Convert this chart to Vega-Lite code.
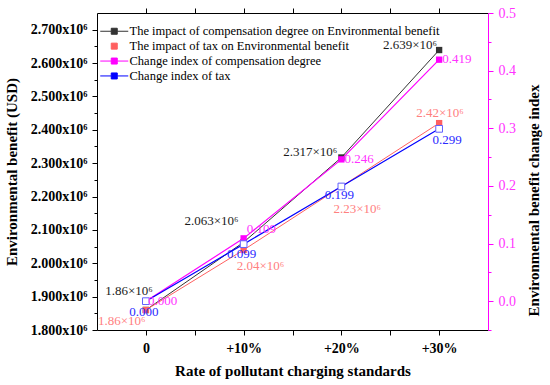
{
  "$schema": "https://vega.github.io/schema/vega-lite/v6.json",
  "autosize": {"type": "none"},
  "padding": {"left": 97, "top": 13, "right": 62, "bottom": 55},
  "width": 391,
  "height": 317,
  "background": "white",
  "datasets": {
    "left": [
      {"x": 0, "series": "The impact of compensation degree on Environmental benefit", "value": 1860000, "label": "1.86×10⁶"},
      {"x": 10, "series": "The impact of compensation degree on Environmental benefit", "value": 2063000, "label": "2.063×10⁶"},
      {"x": 20, "series": "The impact of compensation degree on Environmental benefit", "value": 2317000, "label": "2.317×10⁶"},
      {"x": 30, "series": "The impact of compensation degree on Environmental benefit", "value": 2639000, "label": "2.639×10⁶"},
      {"x": 0, "series": "The impact of tax on Environmental benefit", "value": 1860000, "label": "1.86×10⁶"},
      {"x": 10, "series": "The impact of tax on Environmental benefit", "value": 2040000, "label": "2.04×10⁶"},
      {"x": 20, "series": "The impact of tax on Environmental benefit", "value": 2230000, "label": "2.23×10⁶"},
      {"x": 30, "series": "The impact of tax on Environmental benefit", "value": 2420000, "label": "2.42×10⁶"}
    ],
    "right": [
      {"x": 0, "series": "Change index of compensation degree", "value": 0, "label": "0.000"},
      {"x": 10, "series": "Change index of compensation degree", "value": 0.109, "label": "0.109"},
      {"x": 20, "series": "Change index of compensation degree", "value": 0.246, "label": "0.246"},
      {"x": 30, "series": "Change index of compensation degree", "value": 0.419, "label": "0.419"},
      {"x": 0, "series": "Change index of tax", "value": 0, "label": "0.000"},
      {"x": 10, "series": "Change index of tax", "value": 0.099, "label": "0.099"},
      {"x": 20, "series": "Change index of tax", "value": 0.199, "label": "0.199"},
      {"x": 30, "series": "Change index of tax", "value": 0.299, "label": "0.299"}
    ]
  },
  "layer": [
    {
      "data": {"name": "left"},
      "encoding": {
        "x": {
          "field": "x", "type": "quantitative",
          "scale": {"domain": [-5, 35], "nice": false, "zero": false},
          "axis": {
            "orient": "bottom",
            "values": [0, 5, 10, 15, 20, 25, 30],
            "labelExpr": "datum.value % 10 === 0 ? (datum.value === 0 ? '0' : '+' + datum.value + '%') : ''",
            "title": "Rate of pollutant charging standards",
            "tickSize": 5,
            "labelPadding": 6,
            "titlePadding": 8
          }
        },
        "y": {
          "field": "value", "type": "quantitative",
          "scale": {"domain": [1800000, 2750000], "nice": false, "zero": false},
          "axis": {
            "orient": "left",
            "values": [1800000, 1850000, 1900000, 1950000, 2000000, 2050000, 2100000, 2150000, 2200000, 2250000, 2300000, 2350000, 2400000, 2450000, 2500000, 2550000, 2600000, 2650000, 2700000],
            "labelExpr": "datum.value % 100000 === 0 ? format(datum.value / 1000000, '.3f') + 'x10⁶' : ''",
            "tickSize": {"condition": {"test": "datum.value % 100000 === 0", "value": 5}, "value": 3},
            "labelPadding": 5,
            "title": "Environmental benefit (USD)",
            "titlePadding": 11
          }
        }
      },
      "layer": [
        {
          "mark": {"type": "line", "strokeWidth": 1},
          "encoding": {
            "color": {
              "field": "series", "type": "nominal",
              "scale": {
                "domain": ["The impact of compensation degree on Environmental benefit", "The impact of tax on Environmental benefit", "Change index of compensation degree", "Change index of tax"],
                "range": ["#333333", "#ff6060", "#ff00ff", "#0000ff"]
              },
              "legend": {
                "orient": "none",
                "legendX": 11,
                "legendY": 12,
                "title": null,
                "padding": 0,
                "symbolSize": 100,
                "symbolType": "M-2.8,0H-0.6M0.6,0H2.8M-0.6,-0.6H0.6V0.6H-0.6Z",
                "symbolStrokeWidth": 1,
                "labelFont": "Liberation Serif",
                "labelFontSize": 12.5,
                "labelFontWeight": "normal",
                "labelColor": "black",
                "labelOffset": 9,
                "labelLimit": 400,
                "rowPadding": 1.9,
                "encode": {
                  "symbols": {
                    "update": {
                      "shape": {"signal": "datum.value === 'The impact of tax on Environmental benefit' ? 'M-0.6,-0.6H0.6V0.6H-0.6Z' : 'M-2.8,0H-0.6M0.6,0H2.8M-0.6,-0.6H0.6V0.6H-0.6Z'"},
                      "fill": {"signal": "datum.value === 'Change index of tax' ? '#ffffff' : scale('color', datum.value)"},
                      "stroke": {"signal": "scale('color', datum.value)"},
                      "fillOpacity": {"value": 1},
                      "opacity": {"value": 1}
                    }
                  }
                }
              }
            }
          }
        },
        {
          "mark": {"type": "point", "shape": "square", "filled": true, "size": 40, "opacity": 1},
          "encoding": {
            "color": {
              "field": "series", "type": "nominal",
              "scale": {
                "domain": ["The impact of compensation degree on Environmental benefit", "The impact of tax on Environmental benefit", "Change index of compensation degree", "Change index of tax"],
                "range": ["#333333", "#ff6060", "#ff00ff", "#0000ff"]
              }
            }
          }
        },
        {
          "transform": [{"filter": "datum.series === 'The impact of compensation degree on Environmental benefit'"}],
          "mark": {
            "type": "text", "font": "Liberation Serif", "fontSize": 13, "color": "#1a1a1a", "align": "right", "baseline": "middle",
            "dx": {"expr": "datum.x === 0 ? 7 : datum.x === 10 ? -5 : datum.x === 20 ? -4 : -2"},
            "dy": {"expr": "datum.x === 0 ? -19 : datum.x === 10 ? -21 : -5"}
          },
          "encoding": {"text": {"field": "label"}}
        },
        {
          "transform": [{"filter": "datum.series === 'The impact of tax on Environmental benefit'"}],
          "mark": {
            "type": "text", "font": "Liberation Serif", "fontSize": 13, "color": "#ff8080", "align": "left", "baseline": "middle",
            "dx": {"expr": "datum.x === 0 ? -48 : datum.x === 10 ? -7 : datum.x === 20 ? -8 : -23"},
            "dy": {"expr": "datum.x === 0 ? 11 : datum.x === 10 ? 16 : datum.x === 20 ? 22 : -10"}
          },
          "encoding": {"text": {"field": "label"}}
        }
      ]
    },
    {
      "data": {"name": "right"},
      "encoding": {
        "x": {
          "field": "x", "type": "quantitative",
          "scale": {"domain": [-5, 35], "nice": false, "zero": false},
          "axis": {
            "orient": "top",
            "values": [0, 5, 10, 15, 20, 25, 30],
            "labels": false,
            "title": null,
            "tickSize": 5
          }
        },
        "y": {
          "field": "value", "type": "quantitative",
          "scale": {"domain": [-0.05, 0.5], "nice": false, "zero": false},
          "axis": {
            "orient": "right",
            "values": [-0.05, 0, 0.05, 0.1, 0.15, 0.2, 0.25, 0.3, 0.35, 0.4, 0.45, 0.5],
            "labelExpr": "abs(datum.value * 10 - round(datum.value * 10)) < 0.001 ? format(datum.value, '.1f') : ''",
            "tickSize": {"condition": {"test": "abs(datum.value * 10 - round(datum.value * 10)) < 0.001", "value": 5}, "value": 3},
            "labelPadding": 5,
            "labelFontWeight": "normal",
            "labelColor": "#ff33ff",
            "domainColor": "#ff00ff",
            "tickColor": "#ff00ff",
            "title": "Environmental benefit change index",
            "titleAngle": 270,
            "titleX": 45,
            "titleY": 187,
            "titleAlign": "center",
            "titleBaseline": "middle"
          }
        }
      },
      "layer": [
        {
          "mark": {"type": "line", "strokeWidth": 1.2},
          "encoding": {
            "color": {
              "field": "series", "type": "nominal",
              "scale": {
                "domain": ["The impact of compensation degree on Environmental benefit", "The impact of tax on Environmental benefit", "Change index of compensation degree", "Change index of tax"],
                "range": ["#333333", "#ff6060", "#ff00ff", "#0000ff"]
              }
            }
          }
        },
        {
          "transform": [{"filter": "datum.series === 'Change index of compensation degree'"}],
          "mark": {"type": "point", "shape": "square", "filled": true, "size": 40, "opacity": 1, "color": "#ff00ff"}
        },
        {
          "transform": [{"filter": "datum.series === 'Change index of tax'"}],
          "mark": {"type": "point", "shape": "square", "filled": false, "fill": "white", "fillOpacity": 1, "stroke": "#6060ff", "strokeWidth": 1, "size": 45, "opacity": 1}
        },
        {
          "transform": [{"filter": "datum.series === 'Change index of compensation degree'"}],
          "mark": {
            "type": "text", "font": "Liberation Serif", "fontSize": 13, "color": "#ff33ff", "align": "left", "baseline": "middle",
            "dx": {"expr": "datum.x === 0 ? 2 : 3"},
            "dy": {"expr": "datum.x === 10 ? -9 : datum.x === 30 ? -1 : 0"}
          },
          "encoding": {"text": {"field": "label"}}
        },
        {
          "transform": [{"filter": "datum.series === 'Change index of tax'"}],
          "mark": {
            "type": "text", "font": "Liberation Serif", "fontSize": 13, "color": "#2a2aff", "align": "center", "baseline": "middle",
            "dx": {"expr": "datum.x === 30 ? 8 : -2"},
            "dy": {"expr": "datum.x === 20 ? 9 : datum.x === 10 ? 10 : 11"}
          },
          "encoding": {"text": {"field": "label"}}
        }
      ]
    }
  ],
  "resolve": {"scale": {"y": "independent"}, "axis": {"x": "independent"}},
  "config": {
    "view": {"stroke": null},
    "axis": {
      "grid": false,
      "labelFont": "Liberation Serif",
      "titleFont": "Liberation Serif",
      "labelFontWeight": "bold",
      "titleFontWeight": "bold",
      "labelFontSize": 14,
      "titleFontSize": 15,
      "labelColor": "black",
      "titleColor": "black",
      "domainColor": "black",
      "tickColor": "black",
      "domainWidth": 1,
      "tickWidth": 1
    }
  }
}
